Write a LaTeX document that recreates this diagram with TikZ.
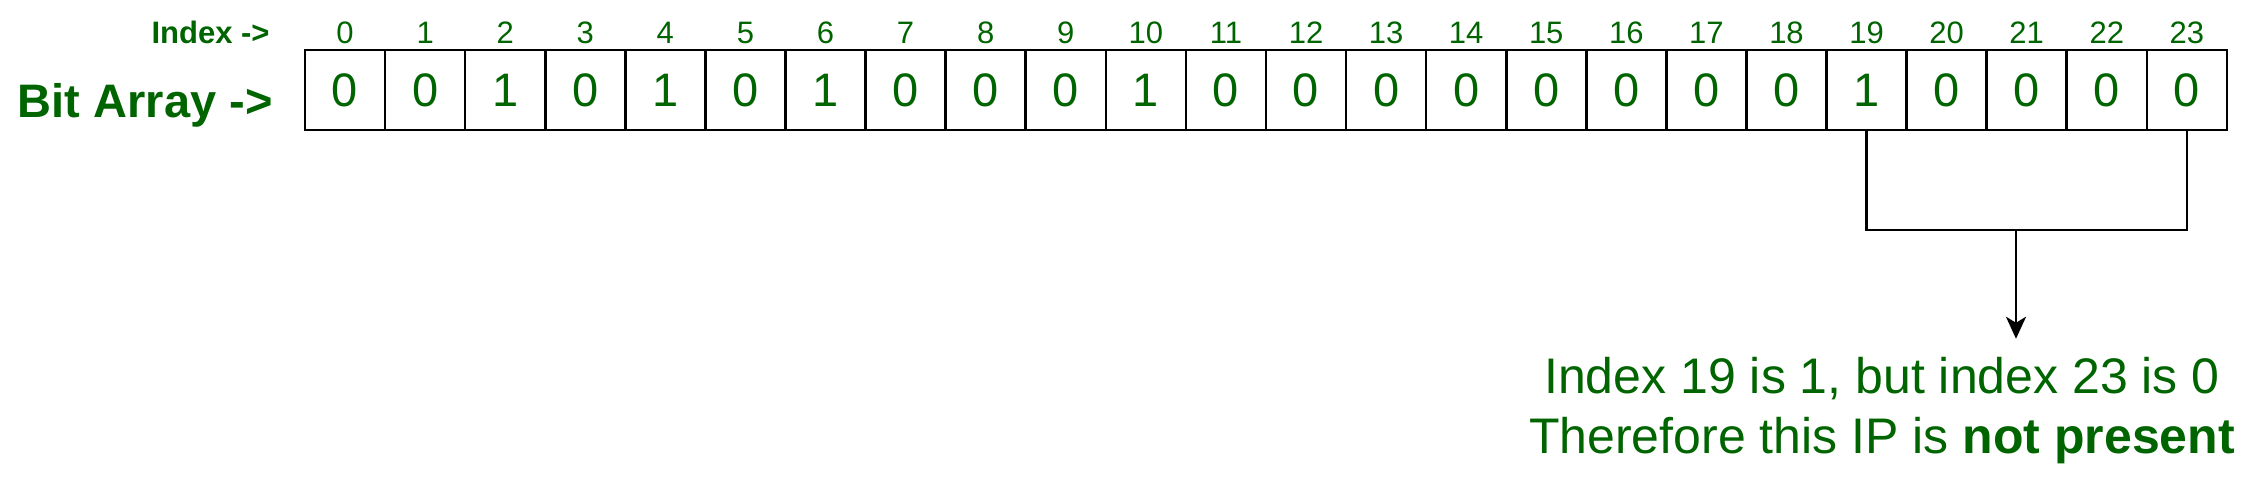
\documentclass[tikz,border=0pt]{standalone}
\usepackage{fontspec}
\setmainfont{Liberation Sans}
\usetikzlibrary{positioning,calc,arrows.meta}
\definecolor{bitgreen}{RGB}{0,100,0}

\tikzset{
  bitcell/.style={draw, line width=1.3pt, minimum width=40.04pt, minimum height=40pt, inner sep=0pt,
    text=bitgreen, font=\fontsize{23.5}{28}\selectfont},
  idxlabel/.style={text=bitgreen, font=\fontsize{15.5}{18}\selectfont, inner sep=0pt, anchor=base},
  notetext/.style={text=bitgreen, font=\fontsize{25}{30}\selectfont, inner xsep=0pt, inner ysep=8.8pt, anchor=base}
}

\begin{document}
\begin{tikzpicture}[x=0.5pt, y=-0.5pt]
\useasboundingbox (0,0) rectangle (2251,482);

% Row labels
\node[idxlabel, anchor=base east, font=\fontsize{15.5}{18}\selectfont\bfseries] (idxhead) at (270,43) {Index ->};
\node[text=bitgreen, inner sep=0pt, anchor=base east, font=\fontsize{23.5}{28}\selectfont\bfseries] (bithead) at (273,117) {Bit Array ->};

% Cells of the bit array with their indices
\foreach \i/\b in {0/0,1/0,2/1,3/0,4/1,5/0,6/1,7/0,8/0,9/0,10/1,11/0,
                   12/0,13/0,14/0,15/0,16/0,17/0,18/0,19/1,20/0,21/0,22/0,23/0} {
    \node[bitcell] (c\i) at ({305+80.08*(\i+0.5)},90) {\b};
    \node[idxlabel] (i\i) at ({305+80.08*(\i+0.5)},43) {\i};
}

% Bracket joining index 19 and index 23
\coordinate (split) at (2016,230);
\draw[line width=1.3pt] (c19.south) -- (c19.south |- split) -- (c23.south |- split) -- (c23.south);

% Conclusion
\node[notetext] (note1) at (1882,393) {Index 19 is 1, but index 23 is 0};
\node[notetext] (note2) at (1882,453) {Therefore this IP is \textbf{not present}};
\draw[-{Stealth[length=11pt, width=10pt, inset=3pt]}, line width=1.3pt] (split) -- (split |- note1.north);

\end{tikzpicture}
\end{document}
